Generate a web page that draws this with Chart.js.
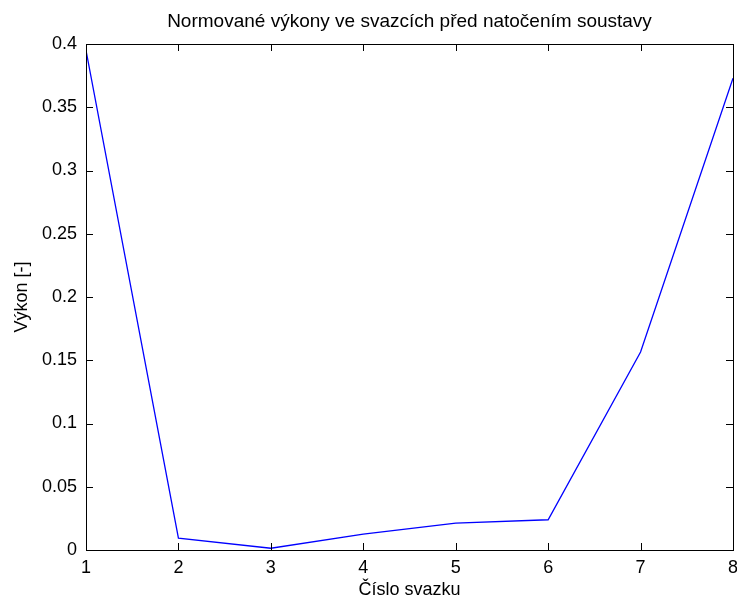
<!DOCTYPE html>
<html>
<head>
<meta charset="utf-8">
<script src="https://cdn.jsdelivr.net/npm/chart.js@4/dist/chart.umd.min.js"></script>
<style>
  html, body { margin: 0; padding: 0; background: #fff; }
  #wrap { width: 737px; height: 600px; }
</style>
</head>
<body>
<div id="wrap"><canvas id="c" width="737" height="600"></canvas></div>
<script>
// Bundle numbers (x axis) and normalised power in each bundle
const bundles = [1, 2, 3, 4, 5, 6, 7, 8];
const power = [0.395, 0.0093, 0.0014, 0.0126, 0.0213, 0.0239, 0.1565, 0.3730];
const yTicks = [0, 0.05, 0.1, 0.15, 0.2, 0.25, 0.3, 0.35, 0.4];

const titleText = 'Normované výkony ve svazcích před natočením soustavy';
const xLabel = 'Číslo svazku';
const yLabel = 'Výkon [-]';

const FONT = 'Arial, "Liberation Sans", Helvetica, sans-serif';
const FS = 18;

// MATLAB-style box with inward tick marks on all four sides
const boxTicks = {
  id: 'boxTicks',
  afterDraw(chart) {
    const { ctx, chartArea: a, scales: { x, y } } = chart;
    const len = 7;
    ctx.save();
    ctx.strokeStyle = '#000';
    ctx.lineWidth = 1;
    ctx.beginPath();
    x.ticks.forEach(t => {
      const px = Math.round(x.getPixelForValue(t.value)) + 0.5;
      ctx.moveTo(px, a.bottom); ctx.lineTo(px, a.bottom - len);
      ctx.moveTo(px, a.top); ctx.lineTo(px, a.top + len);
    });
    y.ticks.forEach(t => {
      const py = Math.round(y.getPixelForValue(t.value)) + 0.5;
      ctx.moveTo(a.left, py); ctx.lineTo(a.left + len, py);
      ctx.moveTo(a.right, py); ctx.lineTo(a.right - len, py);
    });
    ctx.stroke();
    ctx.strokeRect(Math.round(a.left) + 0.5, Math.round(a.top) + 0.5,
                   Math.round(a.right - a.left), Math.round(a.bottom - a.top));
    ctx.restore();
  }
};

new Chart(document.getElementById('c'), {
  type: 'line',
  data: {
    datasets: [{
      data: bundles.map((b, i) => ({ x: b, y: power[i] })),
      borderColor: '#0000ff',
      borderWidth: 1.3,
      pointRadius: 0,
      tension: 0,
      fill: false
    }]
  },
  options: {
    responsive: false,
    animation: false,
    events: [],
    layout: { padding: { left: 0, right: 4, top: 0, bottom: 0 } },
    plugins: {
      legend: { display: false },
      tooltip: { enabled: false },
      title: {
        display: true,
        fullSize: false,
        text: titleText,
        color: '#000',
        font: { family: FONT, size: 19, weight: 'normal', lineHeight: 1 },
        padding: { top: 12, bottom: 13 }
      }
    },
    scales: {
      x: {
        type: 'linear',
        min: 1,
        max: 8,
        grid: { display: false, drawTicks: false },
        border: { display: false },
        afterBuildTicks(s) { s.ticks = bundles.map(v => ({ value: v })); },
        afterFit(s) { s.height = 50; s.paddingLeft = 0; s.paddingRight = 0; },
        ticks: {
          color: '#000',
          padding: 7,
          maxRotation: 0,
          font: { family: FONT, size: FS },
          callback: v => String(v)
        },
        title: {
          display: true,
          text: xLabel,
          color: '#000',
          font: { family: FONT, size: FS, lineHeight: 1 },
          padding: { top: 0, bottom: 1 }
        }
      },
      y: {
        type: 'linear',
        min: 0,
        max: 0.4,
        grid: { display: false, drawTicks: false },
        border: { display: false },
        afterBuildTicks(s) { s.ticks = yTicks.map(v => ({ value: v })); },
        afterFit(s) { s.width = 86; s.paddingTop = 0; s.paddingBottom = 0; },
        ticks: {
          color: '#000',
          padding: 9,
          font: { family: FONT, size: FS },
          callback: v => String(+v.toFixed(2))
        },
        title: {
          display: true,
          text: yLabel,
          color: '#000',
          font: { family: FONT, size: FS, lineHeight: 1 },
          padding: { top: 13, bottom: 0 }
        }
      }
    }
  },
  plugins: [boxTicks]
});
</script>
</body>
</html>
